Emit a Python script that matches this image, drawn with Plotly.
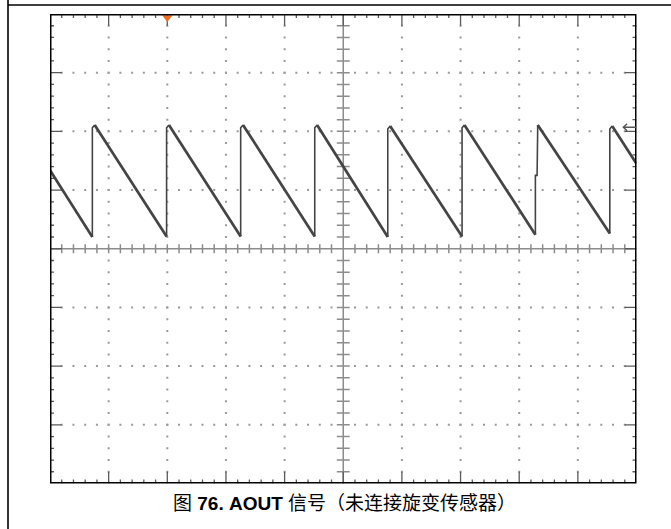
import numpy as np
import plotly.graph_objects as go

# ---- AOUT trace, in graticule divisions (10 x 8 screen, centre = 0,0) ----
rise_x = [0.722, 1.988, 3.251, 4.514, 5.759, 7.026, 8.276, 9.545]   # sawtooth reset instants
trough_y = [0.20, 0.21, 0.21, 0.21, 0.20, 0.21, 0.24, 0.26]          # level just before each reset
peak_y = [2.11, 2.11, 2.11, 2.11, 2.09, 2.11, 2.11, 2.09]            # level just after each reset
start_y = 1.34        # level at the left edge of the screen
end_y = 1.45          # level at the right edge of the screen
step_x = 8.305        # the seventh reset rises in two steps
step_y = 1.25
trigger_x = 2.0       # trigger position marker
ref_level = 2.07      # channel reference arrow on the right

PEAK_DX = 0.04
X_DIV, Y_DIV = 10, 8

# falling ramps (drawn thick)
ramp_x, ramp_y = [0.0, rise_x[0]], [start_y, trough_y[0]]
for i in range(len(rise_x)):
    nx = rise_x[i + 1] if i + 1 < len(rise_x) else X_DIV
    ny = trough_y[i + 1] if i + 1 < len(rise_x) else end_y
    ramp_x += [None, rise_x[i] + PEAK_DX, nx]
    ramp_y += [None, peak_y[i], ny]

# rising edges (drawn thin)
edge_x, edge_y = [], []
for i, (x, lo, hi) in enumerate(zip(rise_x, trough_y, peak_y)):
    if i == 6:
        edge_x += [x, x, step_x, step_x, x + PEAK_DX, None]
        edge_y += [lo, step_y, step_y, hi - 0.05, hi, None]
    else:
        edge_x += [x, x, x + PEAK_DX, None]
        edge_y += [lo, hi - 0.05, hi, None]

# ---- graticule pieces ----
minor = np.round(np.arange(0.2, X_DIV, 0.2), 3)
minor_v = np.round(np.arange(-3.8, 4.0, 0.2), 3)
MAJ, MIN = 0.2, 0.068


def seg_list(pairs):
    xs, ys = [], []
    for (x0, y0, x1, y1) in pairs:
        xs += [x0, x1, None]
        ys += [y0, y1, None]
    return xs, ys


edge_pairs = []
for x in minor:
    L = MAJ if abs(x - round(x)) < 1e-6 else MIN
    edge_pairs.append((x, 4, x, 4 - L))
    edge_pairs.append((x, -4, x, -4 + L))
for y in minor_v:
    L = MAJ if abs(y - round(y)) < 1e-6 else MIN
    edge_pairs.append((0, y, L, y))
    edge_pairs.append((10, y, 10 - L, y))
etx, ety = seg_list(edge_pairs)

centre_pairs = [(0, 0, 10, 0), (5, -4, 5, 4)]
for x in minor:
    if abs(x - 5) > 1e-6:
        centre_pairs.append((x, -0.077, x, 0.077))
for y in minor_v:
    if abs(y) > 1e-6:
        centre_pairs.append((4.89, y, 5.11, y))
ctx, cty = seg_list(centre_pairs)

dot_x, dot_y = [], []
for gx in [1, 2, 3, 4, 6, 7, 8, 9]:
    for y in minor_v:
        dot_x.append(gx)
        dot_y.append(y)
for gy in [-3, -2, -1, 1, 2, 3]:
    for x in minor:
        if abs(x - 5) > 1e-6:
            dot_x.append(x)
            dot_y.append(gy)

fig = go.Figure()
fig.add_trace(go.Scatter(x=dot_x, y=dot_y, mode="markers",
                         marker=dict(symbol="square", size=2, color="#9a9a9a", line_width=0),
                         hoverinfo="skip"))
fig.add_trace(go.Scatter(x=ctx, y=cty, mode="lines",
                         line=dict(color="#8c8c8c", width=1.5), hoverinfo="skip"))
fig.add_trace(go.Scatter(x=etx, y=ety, mode="lines",
                         line=dict(color="#5a5a5a", width=1.3), hoverinfo="skip"))
fig.add_trace(go.Scatter(x=edge_x, y=edge_y, mode="lines",
                         line=dict(color="#444444", width=1.6), hoverinfo="skip"))
fig.add_trace(go.Scatter(x=ramp_x, y=ramp_y, mode="lines",
                         line=dict(color="#444444", width=2.7), hoverinfo="skip"))
# trigger position marker
fig.add_trace(go.Scatter(x=[trigger_x], y=[3.94], mode="markers", cliponaxis=False,
                         marker=dict(symbol="triangle-down", size=9, color="#f26b21", line_width=0),
                         hoverinfo="skip"))

XD0, XD1 = 50 / 671, 636.5 / 671
YD0, YD1 = (529 - 483.5) / 529, (529 - 14) / 529

shapes = [
    # screen border
    dict(type="rect", xref="x", yref="y", x0=0, x1=10, y0=-4, y1=4,
         line=dict(color="black", width=3), layer="above"),
    # channel reference arrow
    dict(type="path", xref="x", yref="y",
         path=f"M 10 {ref_level} L 9.775 {ref_level} M 9.84 {ref_level + 0.06} "
              f"L 9.775 {ref_level} L 9.84 {ref_level - 0.06}",
         line=dict(color="#555555", width=1.4), layer="above"),
    # page frame
    dict(type="line", xref="paper", yref="paper", x0=8 / 671, x1=8 / 671, y0=0, y1=1,
         line=dict(color="black", width=1.6)),
    dict(type="line", xref="paper", yref="paper", x0=8 / 671, x1=1, y0=1 - 5 / 529, y1=1 - 5 / 529,
         line=dict(color="black", width=1.6)),
]

fig.update_layout(
    width=671, height=529,
    margin=dict(l=0, r=0, t=0, b=0),
    paper_bgcolor="white", plot_bgcolor="white",
    showlegend=False,
    xaxis=dict(range=[0, 10], domain=[XD0, XD1], visible=False, fixedrange=True),
    yaxis=dict(range=[-4, 4], domain=[YD0, YD1], visible=False, fixedrange=True),
    shapes=shapes,
    annotations=[dict(
        xref="paper", yref="paper", x=344 / 671, y=1 - 503 / 529,
        text="图 <b>76. AOUT</b> 信号（未连接旋变传感器）",
        showarrow=False, xanchor="center", yanchor="middle",
        font=dict(family="Liberation Sans, Noto Sans CJK SC", size=19, color="black"),
    )],
)

fig.write_html("out.html")
